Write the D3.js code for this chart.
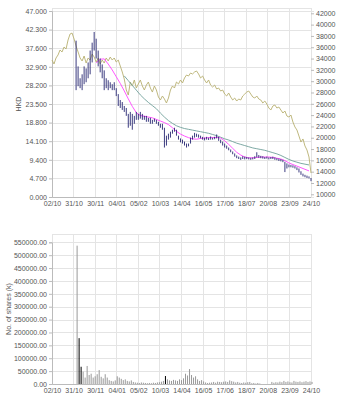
<!DOCTYPE html>
<html><head><meta charset="utf-8">
<script src="https://cdn.jsdelivr.net/npm/d3@7"></script>
<style>body{margin:0;background:#fff}svg{display:block}text{font-family:"Liberation Sans",Arial,sans-serif}</style>
</head><body>
<script>
// ---- data ----
const xTickLabels = ["02/10","31/10","30/11","04/01","05/02","10/03","14/04","16/05","17/06","18/07","20/08","23/09","24/10"];
const dayCount = 258; // trading days between first and last label
const indexStart = 0, indexStep = 2;
const indexValues = [33740,33040,34100,34630,35510,35160,36040,35690,37280,38340,
38510,37460,36220,35160,34100,33570,34450,33210,34100,33740,
34800,34270,33390,34100,33040,33740,33210,34100,33570,34270,
33740,34100,33390,33740,32680,31620,30380,28440,27550,29850,
29150,30210,28790,29500,30210,29150,28440,29320,29850,28790,
28080,29150,28440,27200,26670,27380,26850,26140,27020,28440,
29150,28790,29850,29500,30210,29680,30560,31090,30910,31440,
31270,31620,31800,31270,30560,30910,30210,29680,30210,29320,
28970,29320,28620,28790,28260,28440,27730,27380,27910,27200,
26670,27020,26490,26850,26670,27380,27730,28080,28260,27730,
27200,27020,27380,26850,26670,26140,26490,25960,25260,24900,
25610,25790,25260,25430,24900,24370,24730,23840,23660,24020,
22780,21900,21370,20310,19240,19780,18540,17830,16590,13760];
const priceStart = 24, priceStep = 2;
const priceHigh = [39.5,33,30,31,33,32.5,34,37,39,41.7,
40,37,35,33.5,32,30,29.5,29,28.5,29,
27.5,26,24.5,24,23,22.5,21,21.5,21,20.5,
21.5,21,21.5,21,20.5,20.5,20,20,19.5,19.8,
19.5,19,18.5,18.5,17.5,15.5,16,16.5,17,17.5,
17,15.5,14.8,14.5,14,13.5,13.5,15,15.5,16.2,
16,15.8,15.5,15.2,15,15.2,15,15.3,15,15.2,
15.8,15.2,14.5,14,13.5,13,12.5,12,11.5,11,
10.5,10.2,10,10.3,10.2,10.1,10,9.9,10,10.3,
11.3,10.6,10.4,10.3,10.1,10.2,10,10.1,10.2,10,
9.8,9.7,9.6,9.4,8.9,8.5,8.2,8.1,8,7.8,
7.5,7.2,6.5,5.9,5.6,5.4,5.2,4.8];
const priceLow = [27,28,27.5,27,28.5,29,30,31,34,37,
35,33,31.5,30,27,27.5,27,27.5,27,27,
25.5,23,22.5,22,21.5,20.5,17.5,18,17,18.5,
19.5,19.5,19.8,19.5,19.5,19,19,18.5,18.5,19,
18.5,18,17.5,17,12.5,13,14.5,15,16,16.5,
15.5,14.5,13.8,13.5,13,12.5,12.8,13.5,14.5,15,
15.2,15,14.8,14.5,14.3,14.5,14.4,14.5,14.5,14.6,
14.8,14.2,13.6,13,12.5,12.2,11.8,11.3,10.8,10.2,
9.8,9.6,9.4,9.6,9.5,9.6,9.5,9.4,9.5,9.6,
10,9.9,9.8,9.7,9.6,9.7,9.5,9.6,9.6,9.4,
9.3,9.1,9,8.8,6.3,7.2,7.5,7.5,7.4,7.2,
6.8,6.2,5.6,5.2,5,4.8,4.7,4];
const maShortStart = 44, maShortStep = 4;
const maShort = [33.9,34.8,34.9,33.6,32.1,30.4,28.7,26.8,24.8,22.9,
21.3,20.6,20.4,20.2,20.0,19.6,19.2,18.8,18.3,17.5,
16.6,15.9,15.4,15.0,14.7,14.6,14.8,14.9,15.0,15.0,
15.1,14.9,14.2,13.3,12.3,11.3,10.6,10.1,9.9,9.9,
10.0,10.1,10.1,10.1,10.0,9.8,9.6,9.2,8.6,8.2,
7.8,7.4,7.0,6.6];
const maLongStart = 72, maLongStep = 4;
const maLong = [30.6,29.4,28.2,27.0,25.8,24.8,23.9,23.1,22.3,21.2,
20.2,19.3,18.6,18.0,17.6,17.3,17.1,16.9,16.7,16.5,
16.3,16.1,15.8,15.5,15.1,14.7,14.4,14.0,13.6,13.3,
13.0,12.7,12.4,12.2,12.0,11.8,11.5,11.2,10.9,10.5,
10.0,9.5,9.1,8.8,8.5,8.3,8.1];
const volStart = 25, volStep = 2;
const volume = [537000,178000,67000,48000,25000,70000,35000,40000,25000,30000,
38000,54000,28000,22000,38000,25000,15000,12000,10000,14000,
30000,25000,20000,15000,18000,12000,10000,14000,8000,6000,
5000,4000,6000,5000,4000,3000,4000,3000,5000,4000,
6000,7000,9000,12000,31000,18000,14000,12000,16000,14000,
12000,18000,15000,22000,40000,33000,58000,35000,25000,30000,
18000,12000,15000,10000,6000,4000,5000,6000,8000,5000,
9000,8000,7000,9000,10000,8000,14000,11000,9000,6000,
8000,5000,4000,6000,5000,7000,8000,3000,4000,2000,
4000,2000,0,0,0,0,0,8000,5000,7000,
6000,9000,7000,12000,8000,10000,7000,6000,12000,9000,
8000,10000,7000,9000,11000,8000,10000,8000];
const volDark = [1, 2, 44];
const priceTicks = [0,4.7,9.4,14.1,18.8,23.5,28.2,32.9,37.6,42.3,47];
const indexTicks = [10000,12000,14000,16000,18000,20000,22000,24000,26000,28000,30000,32000,34000,36000,38000,40000,42000];
const volTicks = [0,50000,100000,150000,200000,250000,300000,350000,400000,450000,500000,550000];

// ---- chart ----
const W = 347, H = 400;
const svg = d3.select("body").append("svg").attr("width", W).attr("height", H);
const L = 52, R = 311;
const top1 = 11, bot1 = 197, top2 = 242.3, bot2 = 384;
const x = d3.scaleLinear().domain([0, dayCount]).range([L, R]);
const xTickIdx = xTickLabels.map((d, i) => i * dayCount / (xTickLabels.length - 1));
const yP = d3.scaleLinear().domain([0, 47]).range([bot1, top1]);
const yI = d3.scaleLinear().domain([9523, 42407]).range([bot1, top1]);
const yV = d3.scaleLinear().domain([0, 550000]).range([bot2, top2]);

const gridC = "#e4e4e4", txtC = "#555", fs = 7;

function panel(y, y0, y1, ticks, fmt, frameTop) {
  const g = svg.append("g");
  g.selectAll(".vg").data(xTickIdx).enter().append("line")
    .attr("x1", d => x(d)).attr("x2", d => x(d)).attr("y1", frameTop).attr("y2", y0)
    .attr("stroke", gridC).attr("stroke-width", 1).attr("shape-rendering", "crispEdges");
  g.selectAll(".hg").data(ticks).enter().append("line")
    .attr("x1", L).attr("x2", R).attr("y1", d => Math.round(y(d)) + 0.5).attr("y2", d => Math.round(y(d)) + 0.5)
    .attr("stroke", gridC);
  g.append("line").attr("x1", L).attr("x2", R).attr("y1", frameTop + 0.5).attr("y2", frameTop + 0.5).attr("stroke", gridC);
  const ax = g.append("g").attr("transform", `translate(${L},0)`)
    .call(d3.axisLeft(y).tickValues(ticks).tickFormat(fmt).tickSize(3).tickPadding(2));
  ax.select(".domain").attr("stroke", "#bbb");
  ax.selectAll(".tick line").attr("stroke", "#bbb");
  ax.selectAll("text").attr("font-size", fs).attr("fill", txtC).attr("font-family", "Liberation Sans, Arial");
  const xa = g.append("g").attr("transform", `translate(0,${y0})`)
    .call(d3.axisBottom(x).tickValues(xTickIdx).tickFormat((d, i) => xTickLabels[i]).tickSize(0).tickPadding(4));
  xa.select(".domain").attr("stroke", "#bbb");
  xa.selectAll("text").attr("font-size", fs).attr("fill", txtC).attr("font-family", "Liberation Sans, Arial");
  return g;
}

panel(yP, bot1, top1, priceTicks, d3.format(".3f"), 8);
const axR = svg.append("g").attr("transform", `translate(${R},0)`)
  .call(d3.axisRight(yI).tickValues(indexTicks).tickFormat(d3.format("d")).tickSize(3).tickPadding(2));
axR.select(".domain").attr("stroke", gridC);
axR.selectAll(".tick line").attr("stroke", "#bbb");
axR.selectAll("text").attr("font-size", fs).attr("fill", txtC);

svg.append("path").datum(indexValues)
  .attr("fill", "none").attr("stroke", "#b8b070").attr("stroke-width", 0.9)
  .attr("d", d3.line().x((d, i) => x(indexStart + i * indexStep)).y(d => yI(d)));
svg.append("path").datum(maLong)
  .attr("fill", "none").attr("stroke", "#6f9f9a").attr("stroke-width", 0.9)
  .attr("d", d3.line().x((d, i) => x(maLongStart + i * maLongStep)).y(d => yP(d)));
svg.append("path").datum(maShort)
  .attr("fill", "none").attr("stroke", "#ff44ff").attr("stroke-width", 0.9)
  .attr("d", d3.line().x((d, i) => x(maShortStart + i * maShortStep)).y(d => yP(d)));
const pb = svg.append("g").selectAll("g").data(priceHigh).enter().append("g");
pb.append("line")
  .attr("x1", (d, i) => x(priceStart + i * priceStep)).attr("x2", (d, i) => x(priceStart + i * priceStep))
  .attr("y1", d => yP(d)).attr("y2", (d, i) => yP(priceLow[i]))
  .attr("stroke", "#262672").attr("stroke-width", 0.9);

svg.append("text").attr("transform", `translate(21,${(top1 + bot1) / 2}) rotate(-90)`)
  .attr("text-anchor", "middle").attr("font-size", fs).attr("fill", txtC).text("HKD");

panel(yV, bot2, top2, volTicks, d3.format(".2f"), 234);
svg.append("line").attr("x1", R + 0.5).attr("x2", R + 0.5).attr("y1", 234).attr("y2", bot2).attr("stroke", gridC);
svg.append("g").selectAll("rect").data(volume).enter().append("rect")
  .attr("x", (d, i) => x(volStart + i * volStep) - 0.5).attr("width", 1)
  .attr("y", d => yV(d)).attr("height", d => bot2 - yV(d))
  .attr("fill", (d, i) => volDark.includes(i) ? "#000" : "#999");
svg.append("text").attr("transform", `translate(11,${(234 + bot2) / 2}) rotate(-90)`)
  .attr("text-anchor", "middle").attr("font-size", fs).attr("fill", txtC).text("No. of shares (k)");
</script>
</body></html>
